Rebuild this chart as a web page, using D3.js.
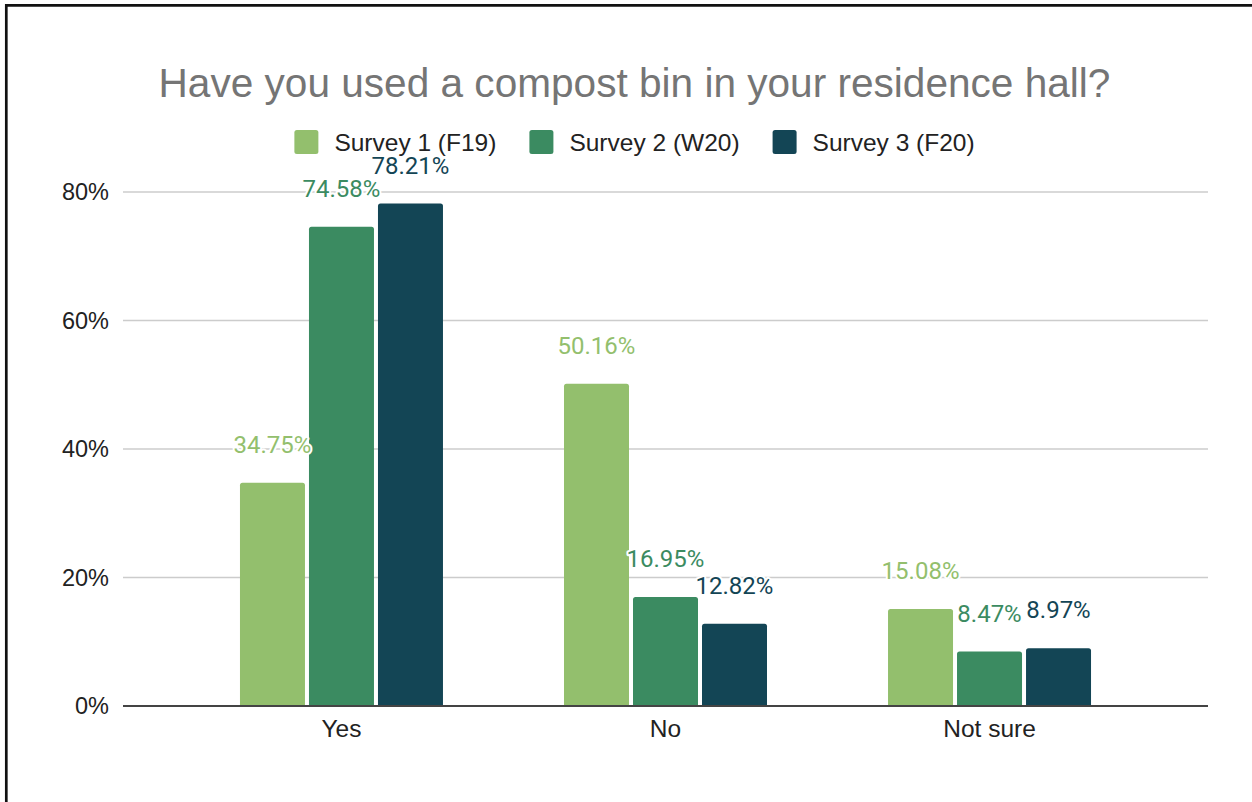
<!DOCTYPE html>
<html>
<head>
<meta charset="utf-8">
<script src="https://cdn.jsdelivr.net/npm/d3@7"></script>
<style>
  html, body { margin: 0; padding: 0; background: #fff; }
  svg { display: block; }
</style>
</head>
<body>
<svg id="chart" width="1252" height="802"></svg>
<script>
// Survey responses: "Have you used a compost bin in your residence hall?"
const categories = ["Yes", "No", "Not sure"];
const seriesNames = ["Survey 1 (F19)", "Survey 2 (W20)", "Survey 3 (F20)"];
const survey1 = [34.75, 50.16, 15.08];
const survey2 = [74.58, 16.95, 8.47];
const survey3 = [78.21, 12.82, 8.97];
const yTicks = [0, 20, 40, 60, 80];
const seriesColors = ["#93bf6d", "#3b8b61", "#134555"];

const seriesValues = [survey1, survey2, survey3];

const W = 1252, H = 802;
const svg = d3.select("#chart");

// Frame edges
svg.append("line").attr("x1", 5).attr("x2", W).attr("y1", 5.3).attr("y2", 5.3)
  .attr("stroke", "#111").attr("stroke-width", 2.7);
svg.append("line").attr("x1", 6.3).attr("x2", 6.3).attr("y1", 4).attr("y2", H)
  .attr("stroke", "#111").attr("stroke-width", 2.7);

const plot = { left: 123, right: 1208, top: 192, bottom: 706 };

const y = d3.scaleLinear().domain([0, 80]).range([plot.bottom, plot.top]);

const x0 = d3.scaleBand()
  .domain(categories)
  .range([plot.left, plot.right])
  .paddingInner(0.3735)
  .paddingOuter(0.361);

const x1 = d3.scaleBand()
  .domain(seriesNames)
  .range([0, x0.bandwidth()])
  .paddingInner(0.058)
  .paddingOuter(0);

const sans = "'Liberation Sans', Arial, sans-serif";

// Title
svg.append("text")
  .attr("x", 634.5).attr("y", 97)
  .attr("text-anchor", "middle")
  .attr("font-family", sans)
  .attr("font-size", 40.6)
  .attr("fill", "#757575")
  .text("Have you used a compost bin in your residence hall?");

// Legend
const legend = svg.append("g");
const items = legend.selectAll("g").data(seriesNames).join("g");
items.append("rect")
  .attr("width", 24).attr("height", 24).attr("rx", 2.5)
  .attr("y", 130)
  .attr("fill", (d, i) => seriesColors[i]);
items.append("text")
  .attr("x", 40).attr("y", 150.5)
  .attr("font-family", sans).attr("font-size", 24.5)
  .attr("fill", "#222")
  .text(d => d);
let widths = [];
items.each(function() { widths.push(40 + this.querySelector("text").getComputedTextLength()); });
const legendGap = 33;
const totalLegend = d3.sum(widths) + legendGap * (widths.length - 1);
let cursor = 634.5 - totalLegend / 2;
items.attr("transform", (d, i) => {
  const t = `translate(${cursor},0)`;
  cursor += widths[i] + legendGap;
  return t;
});

// Gridlines
svg.append("g")
  .selectAll("line")
  .data(yTicks.filter(t => t !== 0))
  .join("line")
  .attr("x1", plot.left).attr("x2", plot.right)
  .attr("y1", d => y(d)).attr("y2", d => y(d))
  .attr("stroke", "#cccccc").attr("stroke-width", 1.5);

// Y axis labels
const yAxis = svg.append("g")
  .attr("transform", `translate(${plot.left},0)`)
  .call(d3.axisLeft(y).tickValues(yTicks).tickFormat(d => d + "%").tickSize(0).tickPadding(14));
yAxis.select(".domain").remove();
yAxis.selectAll("text")
  .attr("font-family", sans).attr("font-size", 23.5).attr("fill", "#222");

// Bars
const radius = 2.5;
function topRounded(x, yTop, w, h, r) {
  r = Math.min(r, h, w / 2);
  return `M${x},${yTop + h}V${yTop + r}Q${x},${yTop} ${x + r},${yTop}H${x + w - r}Q${x + w},${yTop} ${x + w},${yTop + r}V${yTop + h}Z`;
}

const rows = [];
categories.forEach((c, ci) => {
  seriesNames.forEach((s, si) => {
    rows.push({ category: c, series: s, si, value: seriesValues[si][ci] });
  });
});

svg.append("g")
  .selectAll("path")
  .data(rows)
  .join("path")
  .attr("d", d => {
    const bx = x0(d.category) + x1(d.series);
    const top = y(d.value);
    return topRounded(bx, top, x1.bandwidth(), plot.bottom - top, radius);
  })
  .attr("fill", d => seriesColors[d.si]);

// Baseline
svg.append("line")
  .attr("x1", plot.left).attr("x2", plot.right)
  .attr("y1", plot.bottom).attr("y2", plot.bottom)
  .attr("stroke", "#444").attr("stroke-width", 2);

// Category labels
const xAxis = svg.append("g")
  .attr("transform", `translate(0,${plot.bottom})`)
  .call(d3.axisBottom(x0).tickSize(0).tickPadding(14));
xAxis.select(".domain").remove();
xAxis.selectAll("text")
  .attr("font-family", sans).attr("font-size", 24.5).attr("fill", "#222");

// Value labels above bars
svg.append("g")
  .selectAll("text")
  .data(rows)
  .join("text")
  .attr("x", d => x0(d.category) + x1(d.series) + x1.bandwidth() / 2)
  .attr("y", d => y(d.value) - 30)
  .attr("text-anchor", "middle")
  .attr("font-family", "Roboto, sans-serif")
  .attr("font-size", 24)
  .attr("fill", d => seriesColors[d.si])
  .attr("stroke", "#fff").attr("stroke-width", 4)
  .attr("stroke-linejoin", "round")
  .attr("paint-order", "stroke")
  .text(d => d.value.toFixed(2) + "%");
</script>
</body>
</html>
